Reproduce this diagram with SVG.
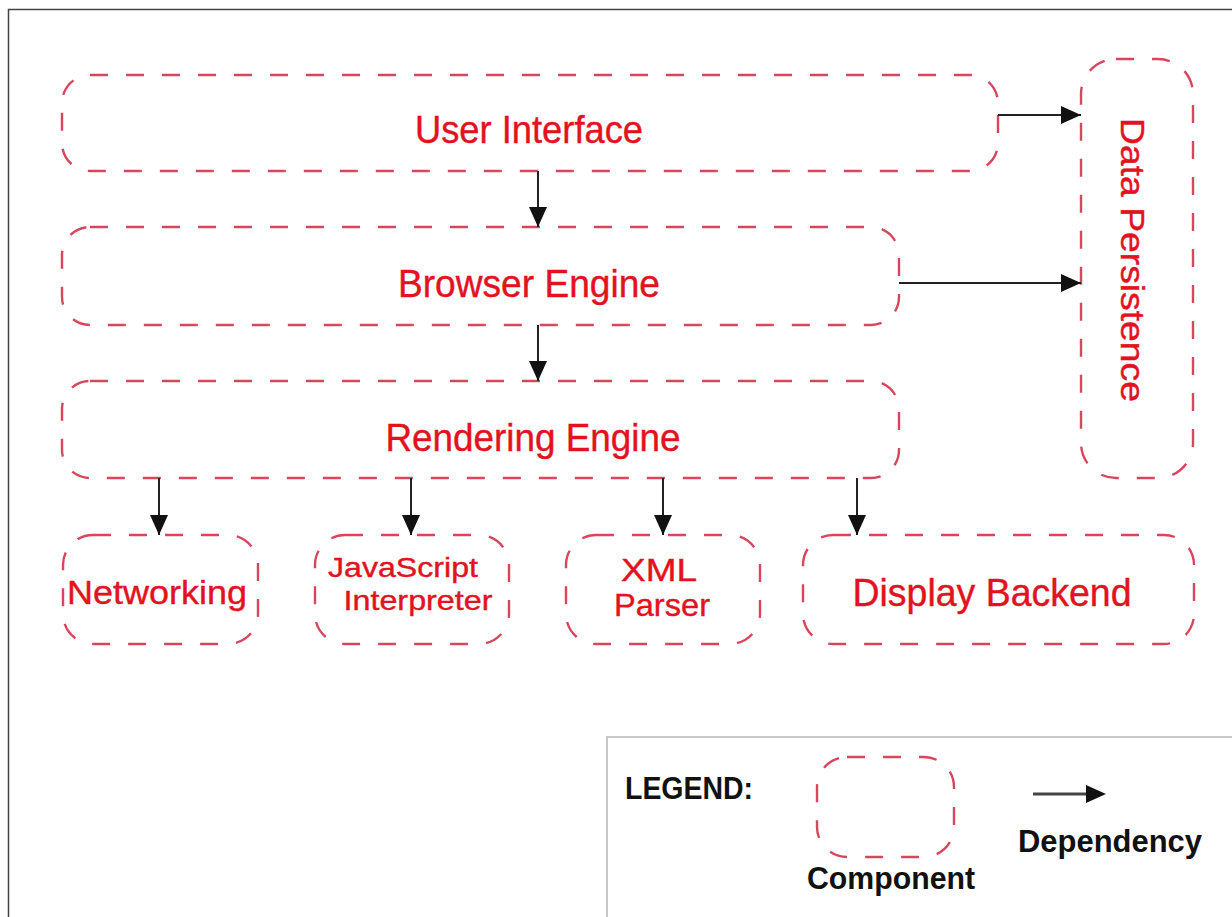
<svg xmlns="http://www.w3.org/2000/svg" width="1232" height="917" viewBox="0 0 1232 917">
  <style>
    .comp { fill: none; stroke: #d8465e; stroke-width: 2.4; stroke-dasharray: 18 18; }
    .lbl { font-family: "Liberation Sans", Arial, Helvetica, sans-serif; fill: #e2121f; stroke: #e2121f; stroke-width: 0.4; text-anchor: middle; }
    .dep { stroke: #222; stroke-width: 2; fill: none; marker-end: url(#head); }
    .leg { font-family: "Liberation Sans", Arial, sans-serif; font-weight: bold; fill: #111; }
  </style>
  <defs>
    <marker id="head" viewBox="0 0 20 18" refX="20" refY="9" markerWidth="20" markerHeight="18" markerUnits="userSpaceOnUse" orient="auto">
      <path d="M0,0 L20,9 L0,18 Z" fill="#111"/>
    </marker>
  </defs>

  <rect x="0" y="0" width="1232" height="917" fill="#fff"/>
  <!-- outer frame -->
  <path d="M8.5,925 V9.5 H1240" fill="none" stroke="#444" stroke-width="1.5"/>

  <!-- components -->
  <g id="user-interface">
    <rect class="comp" x="62" y="75" width="936" height="96" rx="28"/>
    <text class="lbl" x="529" y="143" font-size="38" textLength="228" lengthAdjust="spacingAndGlyphs">User Interface</text>
  </g>
  <g id="browser-engine">
    <rect class="comp" x="62" y="227" width="837" height="98" rx="28"/>
    <text class="lbl" x="529" y="297" font-size="38" textLength="262" lengthAdjust="spacingAndGlyphs">Browser Engine</text>
  </g>
  <g id="rendering-engine">
    <rect class="comp" x="62" y="381" width="837" height="97" rx="28"/>
    <text class="lbl" x="533" y="451" font-size="38" textLength="295" lengthAdjust="spacingAndGlyphs">Rendering Engine</text>
  </g>
  <g id="data-persistence">
    <rect class="comp" x="1081" y="59" width="112" height="419" rx="35"/>
    <text class="lbl" transform="translate(1121,260) rotate(90)" x="0" y="0" font-size="34" textLength="284" lengthAdjust="spacingAndGlyphs">Data Persistence</text>
  </g>
  <g id="networking">
    <rect class="comp" x="63" y="535" width="195" height="109" rx="30"/>
    <text class="lbl" x="157" y="604" font-size="34" textLength="180" lengthAdjust="spacingAndGlyphs">Networking</text>
  </g>
  <g id="javascript-interpreter">
    <rect class="comp" x="315" y="535" width="194" height="109" rx="30"/>
    <text class="lbl" x="403" y="577" font-size="27" textLength="150" lengthAdjust="spacingAndGlyphs">JavaScript</text>
    <text class="lbl" x="418" y="610" font-size="28" textLength="149" lengthAdjust="spacingAndGlyphs">Interpreter</text>
  </g>
  <g id="xml-parser">
    <rect class="comp" x="566" y="535" width="194" height="109" rx="30"/>
    <text class="lbl" x="659" y="581" font-size="32" textLength="76" lengthAdjust="spacingAndGlyphs">XML</text>
    <text class="lbl" x="662" y="616" font-size="32" textLength="96" lengthAdjust="spacingAndGlyphs">Parser</text>
  </g>
  <g id="display-backend">
    <rect class="comp" x="803" y="535" width="391" height="109" rx="30"/>
    <text class="lbl" x="992" y="606" font-size="38" textLength="279" lengthAdjust="spacingAndGlyphs">Display Backend</text>
  </g>

  <!-- dependencies -->
  <g id="connectors">
    <line class="dep" x1="998" y1="115" x2="1081" y2="115"/>
    <line class="dep" x1="899" y1="283" x2="1081" y2="283"/>
    <line class="dep" x1="538" y1="171" x2="538" y2="227"/>
    <line class="dep" x1="538" y1="325" x2="538" y2="381"/>
    <line class="dep" x1="159" y1="478" x2="159" y2="535"/>
    <line class="dep" x1="411" y1="478" x2="411" y2="535"/>
    <line class="dep" x1="663" y1="478" x2="663" y2="535"/>
    <line class="dep" x1="857" y1="478" x2="857" y2="535"/>
  </g>

  <!-- legend -->
  <g id="legend">
    <path d="M607,925 V737 H1240" fill="none" stroke="#c8c8c8" stroke-width="2"/>
    <text class="leg" x="625" y="799" font-size="31" textLength="128" lengthAdjust="spacingAndGlyphs">LEGEND:</text>
    <rect class="comp" x="817" y="757" width="137" height="100" rx="30" stroke-dasharray="16 14"/>
    <text class="leg" x="807" y="889" font-size="31" textLength="168" lengthAdjust="spacingAndGlyphs">Component</text>
    <line x1="1033" y1="794" x2="1090" y2="794" stroke="#444" stroke-width="3"/>
    <path d="M1086,785 L1106,794 L1086,803 Z" fill="#111"/>
    <text class="leg" x="1018" y="852" font-size="31" textLength="184" lengthAdjust="spacingAndGlyphs">Dependency</text>
  </g>
</svg>
